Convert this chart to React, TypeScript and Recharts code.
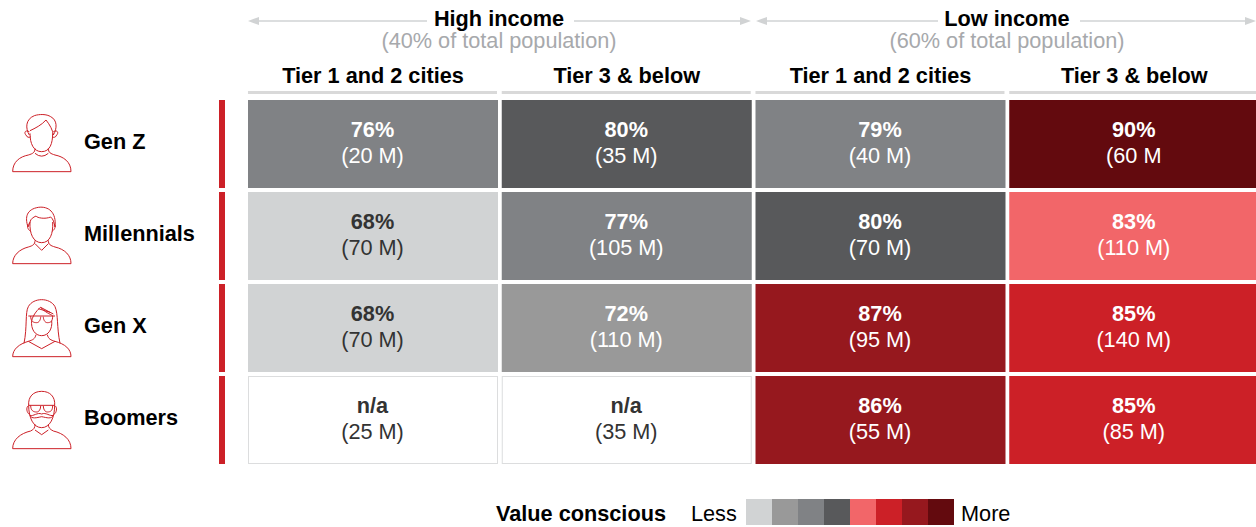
import { BarChart, Bar, XAxis, YAxis } from "recharts";

const generations = ["Gen Z", "Millennials", "Gen X", "Boomers"];
const tiers = ["Tier 1 and 2 cities", "Tier 3 & below", "Tier 1 and 2 cities", "Tier 3 & below"];
const tierTicks = [0.5, 1.5, 2.5, 3.5];

// one list per column, top to bottom. null means n/a
const share0 = [76, 68, 68, null];
const share1 = [80, 77, 72, null];
const share2 = [79, 80, 87, 86];
const share3 = [90, 83, 85, 85];
const shares = [share0, share1, share2, share3];

const pop0 = ["(20 M)", "(70 M)", "(70 M)", "(25 M)"];
const pop1 = ["(35 M)", "(105 M)", "(110 M)", "(35 M)"];
const pop2 = ["(40 M)", "(70 M)", "(95 M)", "(55 M)"];
const pop3 = ["(60 M", "(110 M)", "(140 M)", "(85 M)"];
const pops = [pop0, pop1, pop2, pop3];

const legendColors = ["#d1d3d4", "#999999", "#808285", "#58595b", "#f26669", "#cc2027", "#96181e", "#630a0e"];
// upper share for each legend colour
const legendLimits = [70, 75, 79, 80, 83, 85, 87, 100];

const rows = generations.map((gen) => ({ gen, c0: 1, c1: 1, c2: 1, c3: 1 }));

const RED = "#cc2027";
const FONT = "'Liberation Sans', Arial, sans-serif";
const SIZE = 21.7;

const colorFor = (share: number) => legendColors[legendLimits.findIndex((l) => share <= l)];

// icons are traced at 3x, row top is y=0
const icons: Record<string, string[]> = {
  "Gen Z": [
    "M38 215 H213 C213 185 190 170 165 165 C152 161 145 158 145 145 M38 215 C38 185 60 170 85 165 C98 161 105 158 105 145",
    "M105 160 Q125 177 145 160",
    "M90 100 C90 130 100 155 125 155 C150 155 158 130 158 100",
    "M88 105 C76 85 76 58 103 47 C118 42 140 42 152 50 C172 60 172 85 160 105 C158 90 150 75 138 60 C125 75 105 85 90 92",
    "M88 95 C74 88 72 100 78 105 C80 112 88 114 92 110 M160 95 C174 88 176 100 170 105 C168 112 160 114 156 110",
  ],
  Millennials: [
    "M38 215 H213 C213 190 195 172 165 165 C152 161 145 158 145 145 M38 215 C38 190 58 172 85 165 C98 161 105 158 105 145",
    "M105 155 L125 175 L145 155",
    "M90 90 C88 125 100 152 125 152 C150 152 160 125 158 90",
    "M84 105 C74 75 80 52 115 46 C145 42 170 60 165 105 C162 90 160 82 152 75 C135 82 112 78 108 72 C100 76 92 80 90 90 Z",
    "M86 95 C80 100 82 112 92 118 M162 95 C168 100 166 112 156 118",
  ],
  "Gen X": [
    "M38 218 H213 C213 195 195 180 165 172 C152 168 145 165 142 152 M38 218 C38 195 58 180 85 172 C98 168 105 165 108 152",
    "M85 172 L125 194 L165 172",
    "M95 110 C92 135 105 155 125 155 C145 155 158 135 155 110",
    "M72 178 C82 130 75 85 85 68 C100 40 150 40 165 68 C175 90 170 130 180 178",
    "M95 110 C100 90 115 75 122 70 C135 85 150 90 158 95 M122 70 L160 90 M115 74 L150 85",
    "M85 96 H165 M92 96 C92 112 100 116 110 116 C118 116 122 106 122 98 M130 98 C130 106 134 116 142 116 C152 116 158 112 158 96",
  ],
  Boomers: [
    "M38 218 H213 C213 190 190 172 160 165 C150 160 145 155 145 145 M38 218 C38 190 62 172 92 165 C102 160 105 155 105 145",
    "M105 162 L125 176 L145 162",
    "M86 88 C84 62 100 46 125 46 C150 46 166 62 164 88 C164 125 150 155 125 155 C100 155 86 125 86 88 Z",
    "M85 88 H165 M92 88 C92 104 100 108 110 108 C118 108 122 98 122 90 M130 90 C130 98 134 108 142 108 C152 108 158 104 158 88",
    "M90 118 C100 122 112 108 125 114 C138 108 150 122 160 118 C155 130 140 125 125 122 C110 125 95 130 90 118 Z",
    "M84 90 C78 95 80 110 88 115 M166 90 C172 95 170 110 162 115",
  ],
};

function GenerationTick({ y, payload }: any) {
  const paths = icons[payload.value] || [];
  return (
    <g>
      <g transform={`translate(0, ${y - 44}) scale(${1 / 3})`} fill="none" stroke={RED} strokeWidth={3}>
        {paths.map((d, i) => (
          <path key={i} d={d} />
        ))}
      </g>
      <text x={84} y={y + 5} fontFamily={FONT} fontSize={SIZE} fontWeight={700} fill="#000">
        {payload.value}
      </text>
      <rect x={219} y={y - 44} width={6} height={88} fill={RED} />
    </g>
  );
}

function TierTick({ x, index }: any) {
  const cx = x - 1.9;
  return (
    <g>
      <text x={cx} y={83} textAnchor="middle" fontFamily={FONT} fontSize={SIZE} fontWeight={700} fill="#000">
        {tiers[index]}
      </text>
      <rect x={cx - 125} y={91} width={249} height={3} fill="#d9d9d9" />
    </g>
  );
}

const renderCell = (col: number) => (props: any) => {
  const { x, y, height, index } = props;
  const share = shares[col][index];
  const w = 250;
  const cy = y + height / 2;
  const light = share === null || share < 70;
  const ink = light ? "#333333" : "#ffffff";
  return (
    <g>
      {share === null ? (
        <rect x={x + 0.5} y={y + 0.5} width={w - 1} height={height - 1} fill="#fff" stroke="#dcddde" />
      ) : (
        <rect x={x} y={y} width={w} height={height} fill={colorFor(share)} />
      )}
      <text x={x + w / 2 - 0.5} y={cy - 7.5} textAnchor="middle" fontFamily={FONT} fontSize={SIZE} fontWeight={700} fill={ink}>
        {share === null ? "n/a" : `${share}%`}
      </text>
      <text x={x + w / 2 - 0.5} y={cy + 18.5} textAnchor="middle" fontFamily={FONT} fontSize={SIZE} fill={ink}>
        {pops[col][index]}
      </text>
    </g>
  );
};

function GroupHeader({ title, note, cx, left, right, lineEnd, lineStart }: any) {
  const line = "#d1d3d4";
  return (
    <g fontFamily={FONT} fontSize={SIZE} textAnchor="middle">
      <line x1={left + 6} x2={lineEnd} y1={21} y2={21} stroke={line} strokeWidth={1.5} />
      <line x1={lineStart} x2={right - 6} y1={21} y2={21} stroke={line} strokeWidth={1.5} />
      <path d={`M${left} 21 l11 -4 v8 z`} fill={line} />
      <path d={`M${right} 21 l-11 -4 v8 z`} fill={line} />
      <text x={cx} y={26} fontWeight={700} fill="#000">
        {title}
      </text>
      <text x={cx} y={48} fill="#a7a9ac">
        {note}
      </text>
    </g>
  );
}

export default function App() {
  return (
    <div style={{ position: "absolute", left: 0, top: 0, width: 1256, height: 527, overflow: "hidden" }}>
      <BarChart
        width={1263}
        height={527}
        data={rows}
        layout="vertical"
        barSize={88}
        margin={{ top: 0, right: 0, bottom: 61, left: 0 }}
      >
        <XAxis
          type="number"
          orientation="top"
          domain={[0, 4]}
          ticks={tierTicks}
          interval={0}
          height={98}
          axisLine={false}
          tickLine={false}
          tick={<TierTick />}
        />
        <YAxis
          type="category"
          dataKey="gen"
          width={248}
          interval={0}
          axisLine={false}
          tickLine={false}
          tick={<GenerationTick />}
        />
        {shares.map((_, col) => (
          <Bar key={col} dataKey={`c${col}`} stackId="cells" isAnimationActive={false} shape={renderCell(col)} />
        ))}
        <GroupHeader title="High income" note="(40% of total population)" cx={499} left={248} right={751} lineEnd={427} lineStart={574} />
        <GroupHeader title="Low income" note="(60% of total population)" cx={1007} left={756} right={1256} lineEnd={938} lineStart={1080} />
        <g fontFamily={FONT} fontSize={SIZE}>
          <text x={496} y={521} fontWeight={700} fill="#000">
            Value conscious
          </text>
          <text x={691} y={521} fill="#000">
            Less
          </text>
          {legendColors.map((c, i) => (
            <rect key={c} x={746 + i * 26} y={499} width={26} height={26} fill={c} />
          ))}
          <text x={961} y={521} fill="#000">
            More
          </text>
        </g>
      </BarChart>
    </div>
  );
}
